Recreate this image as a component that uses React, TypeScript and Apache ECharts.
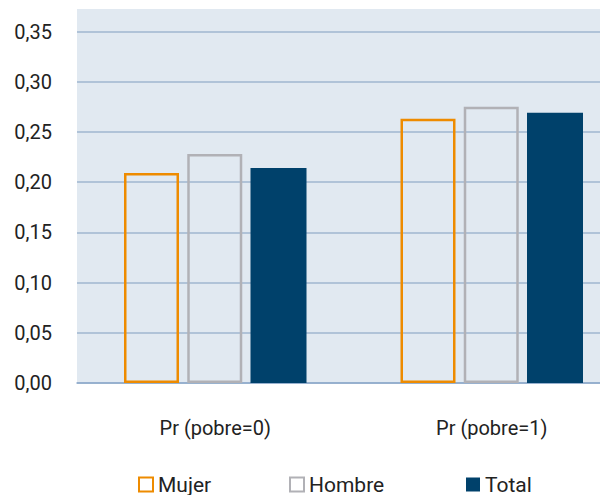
import React, { useEffect, useRef } from "react";
import * as echarts from "echarts";

const categories = ["Pr (pobre=0)", "Pr (pobre=1)"];
const seriesNames = ["Mujer", "Hombre", "Total"];
const mujer = [0.209, 0.263];
const hombre = [0.228, 0.275];
const total = [0.214, 0.269];

const FONT = "Roboto, 'Noto Sans', sans-serif";
const ORANGE = "#ee8b00";
const GRAY = "#b1b1b6";
const NAVY = "#00416b";

// The plot runs past the right edge of the visible frame, so the chart
// canvas is wider than the frame and the frame clips it.
const FRAME_W = 600;
const FRAME_H = 495;
const CHART_W = 640;

// Left edge of each legend entry
const LEGEND_LEFT = [138, 289, 466];

export default function App() {
  const ref = useRef<HTMLDivElement>(null);

  useEffect(() => {
    if (!ref.current) return;
    const chart = echarts.init(ref.current, undefined, { renderer: "svg" });

    const outlined = (name: string, data: number[], color: string) => ({
      name,
      type: "bar",
      data,
      barWidth: 55,
      barGap: "15%",
      itemStyle: { color: "transparent", borderColor: color, borderWidth: 2.5 },
    });

    chart.setOption({
      animation: false,
      textStyle: { fontFamily: FONT },
      graphic: [
        {
          type: "rect",
          z: -10,
          silent: true,
          shape: { x: 77, y: 9, width: CHART_W - 77, height: 374 },
          style: { fill: "#e1e9f1" },
        },
      ],
      grid: { left: 77, top: 31.5, right: CHART_W - 77 - 553, bottom: 112, containLabel: false },
      legend: seriesNames.map((n, i) => ({
        left: LEGEND_LEFT[i],
        top: 474,
        padding: 0,
        itemWidth: 14,
        itemHeight: 14,
        textStyle: { fontSize: 21, color: "#222", fontFamily: FONT },
        data: [{ name: n, icon: "rect" }],
      })),
      xAxis: {
        type: "category",
        data: categories,
        axisLine: { lineStyle: { color: "#8eaacb", width: 1.5 } },
        axisTick: { show: false },
        axisLabel: { fontSize: 20, color: "#222", margin: 35 },
      },
      yAxis: {
        type: "value",
        min: 0,
        max: 0.35,
        interval: 0.05,
        axisLine: { show: false },
        axisTick: { show: false },
        splitLine: { lineStyle: { color: "#9fb6cf", width: 1.5 } },
        axisLabel: {
          fontSize: 20,
          color: "#222",
          margin: 25,
          formatter: (v: number) => v.toFixed(2).replace(".", ","),
        },
      },
      series: [
        outlined(seriesNames[0], mujer, ORANGE),
        outlined(seriesNames[1], hombre, GRAY),
        {
          name: seriesNames[2],
          type: "bar",
          data: total,
          barWidth: 56,
          barGap: "15%",
          itemStyle: { color: NAVY },
        },
      ],
    });

    return () => chart.dispose();
  }, []);

  return (
    <div
      style={{
        position: "absolute",
        left: 0,
        top: 0,
        width: FRAME_W,
        height: FRAME_H,
        overflow: "hidden",
      }}
    >
      <div ref={ref} style={{ width: CHART_W, height: FRAME_H }} />
    </div>
  );
}
